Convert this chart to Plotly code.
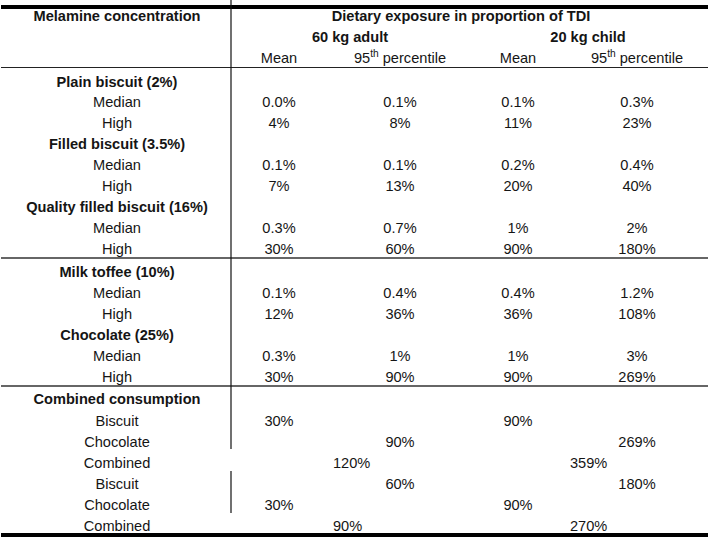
import plotly.graph_objects as go

# ---------------- data ----------------
title_left = "Melamine concentration"
title_top = "Dietary exposure in proportion of TDI"
groups = ["60 kg adult", "20 kg child"]
stat_labels = ["Mean", "95<sup>th</sup> percentile", "Mean", "95<sup>th</sup> percentile"]

sections = ["Plain biscuit (2%)", "Filled biscuit (3.5%)", "Quality filled biscuit (16%)",
            "Milk toffee (10%)", "Chocolate (25%)"]
levels = ["Median", "High"]
adult_mean = ["0.0%", "4%", "0.1%", "7%", "0.3%", "30%", "0.1%", "12%", "0.3%", "30%"]
adult_p95 = ["0.1%", "8%", "0.1%", "13%", "0.7%", "60%", "0.4%", "36%", "1%", "90%"]
child_mean = ["0.1%", "11%", "0.2%", "20%", "1%", "90%", "0.4%", "36%", "1%", "90%"]
child_p95 = ["0.3%", "23%", "0.4%", "40%", "2%", "180%", "1.2%", "108%", "3%", "269%"]

combined_title = "Combined consumption"
combined_labels = ["Biscuit", "Chocolate", "Combined", "Biscuit", "Chocolate", "Combined"]
comb_adult_mean = ["30%", "", "", "", "30%", ""]
comb_adult_p95 = ["", "90%", "", "60%", "", ""]
comb_adult_total = ["", "", "120%", "", "", "90%"]
comb_child_mean = ["90%", "", "", "", "90%", ""]
comb_child_p95 = ["", "269%", "", "180%", "", ""]
comb_child_total = ["", "", "359%", "", "", "270%"]

# ---------------- layout constants ----------------
W, H = 709, 538
FONT = "Liberation Sans, Arial, sans-serif"
FS = 14.6
COL = "#151515"
DY = 1.5  # vertical text nudge
x_label = 117
x_cols = [279, 400, 518, 637]
x_groups = [350, 588]
x_tot_left = [333, 570]

# row y positions (pixel space, top = 0)
sec_rows = [82, 102, 123, 144, 165, 186, 207, 228, 249, 272, 293, 314, 335, 356, 377]
comb_rows = [399, 421, 442, 463, 484, 505, 526]

fig = go.Figure()


def add_text(xs, ys, texts, bold=False, pos="middle center"):
    fig.add_trace(go.Scatter(
        x=xs, y=[y + DY for y in ys], text=[f"<b>{t}</b>" if (bold and t) else t for t in texts],
        mode="text", textposition=pos,
        textfont=dict(family=FONT, size=FS, color=COL),
        hoverinfo="skip", showlegend=False, cliponaxis=False))


# header
add_text([x_label], [16], [title_left], bold=True)
add_text([461], [16], [title_top], bold=True)
for gx, g in zip(x_groups, groups):
    add_text([gx], [37], [g], bold=True)
add_text(x_cols, [58] * 4, stat_labels)

# sections
label_x, label_y, label_t = [], [], []
vals = [[], [], [], []]
val_y = []
r = 0
for i, s in enumerate(sections):
    add_text([x_label], [sec_rows[r]], [s], bold=True)
    r += 1
    for j, lv in enumerate(levels):
        k = i * 2 + j
        y = sec_rows[r]
        label_x.append(x_label); label_y.append(y); label_t.append(lv)
        val_y.append(y)
        vals[0].append(adult_mean[k]); vals[1].append(adult_p95[k])
        vals[2].append(child_mean[k]); vals[3].append(child_p95[k])
        r += 1
add_text(label_x, label_y, label_t)
for c in range(4):
    add_text([x_cols[c]] * len(val_y), val_y, vals[c])

# combined section
add_text([x_label], [comb_rows[0]], [combined_title], bold=True)
cy = comb_rows[1:]
add_text([x_label] * len(cy), cy, combined_labels)
for c, arr in enumerate([comb_adult_mean, comb_adult_p95, comb_child_mean, comb_child_p95]):
    pts = [(y, t) for y, t in zip(cy, arr) if t]
    add_text([x_cols[c]] * len(pts), [p[0] for p in pts], [p[1] for p in pts])
for g, arr in enumerate([comb_adult_total, comb_child_total]):
    pts = [(y, t) for y, t in zip(cy, arr) if t]
    add_text([x_tot_left[g]] * len(pts), [p[0] for p in pts], [p[1] for p in pts], pos="middle right")


# rules (drawn as line traces on the same axes)
def hline(y, w, color="#000"):
    fig.add_trace(go.Scatter(x=[1, 708], y=[y, y], mode="lines",
                             line=dict(color=color, width=w), hoverinfo="skip",
                             showlegend=False, cliponaxis=False))


def vline(x, y0, y1):
    fig.add_trace(go.Scatter(x=[x, x], y=[y0, y1], mode="lines",
                             line=dict(color="#111", width=1.2), hoverinfo="skip",
                             showlegend=False, cliponaxis=False))


hline(7, 4)
hline(67.5, 1.2, "#222")
hline(258, 1.5, "#333")
hline(386, 1.5, "#333")
hline(535, 4)
vline(231, 0, 449)
vline(231, 471, 513)

fig.update_layout(
    width=W, height=H, autosize=False,
    margin=dict(l=0, r=0, t=0, b=0),
    paper_bgcolor="white", plot_bgcolor="white",
    xaxis=dict(range=[0, W], visible=False, fixedrange=True),
    yaxis=dict(range=[H, 0], visible=False, fixedrange=True),
)

fig.write_html("out.html", config={"displayModeBar": False},
               post_script="document.body.style.margin='0';document.body.style.overflow='hidden';")
